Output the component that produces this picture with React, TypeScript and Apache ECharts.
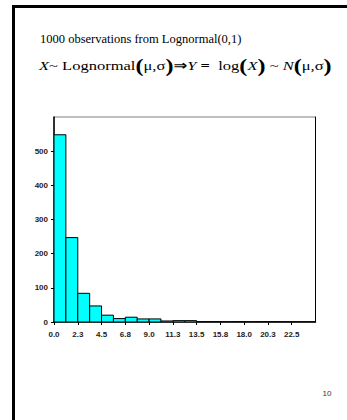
import React, { useEffect, useRef } from "react";
import * as echarts from "echarts";

// Histogram of 1000 observations from Lognormal(0,1)
const binWidth = 1.125;
const counts = [548, 247, 84, 47, 20, 10, 14, 9, 9, 3, 4, 4, 1, 1, 0, 1, 0, 1, 1, 0, 0, 0];
const xMin = 0;
const xMax = 24.75;
const xInterval = 2.25;
const yMin = 0;
const yMax = 600;
const yInterval = 100;
const titleText = "1000 observations from Lognormal(0,1)";
const pageNumber = "10";

export default function App() {
  const ref = useRef<HTMLDivElement>(null);
  useEffect(() => {
    if (!ref.current) return;
    const chart = echarts.init(ref.current, null, { renderer: "svg" });
    const data = counts.map((c, i) => [i * binWidth, (i + 1) * binWidth, c]);
    const serif = "'Liberation Serif', 'Times New Roman', 'DejaVu Serif', serif";
    const sans = "'Liberation Sans', Arial, sans-serif";
    chart.setOption({
      animation: false,
      backgroundColor: "#ffffff",
      grid: {
        left: 54,
        right: 31.5,
        top: 117,
        bottom: 98,
        show: true,
        borderColor: "#808080",
        borderWidth: 1,
        containLabel: false,
      },
      xAxis: {
        type: "value",
        min: xMin,
        max: xMax,
        interval: xInterval,
        axisLine: { show: true, onZero: false, lineStyle: { color: "#000", width: 1.5 } },
        axisTick: { show: true, length: 3, lineStyle: { color: "#000" } },
        splitLine: { show: false },
        axisLabel: {
          showMaxLabel: false,
          margin: 8,
          color: "#222",
          fontFamily: sans,
          fontWeight: "bold",
          fontSize: 8,
          formatter: (v: number) => v.toFixed(1),
        },
      },
      yAxis: [
        {
          type: "value",
          min: yMin,
          max: yMax,
          interval: yInterval,
          axisLine: { show: true, lineStyle: { color: "#000", width: 1.5 } },
          axisTick: { show: true, length: 3, lineStyle: { color: "#000" } },
          splitLine: { show: false },
          axisLabel: {
            showMaxLabel: false,
            margin: 6,
            color: "#222",
            fontFamily: sans,
            fontWeight: "bold",
            fontSize: 8,
          },
        },
        {
          type: "value",
          position: "right",
          min: yMin,
          max: yMax,
          interval: yInterval,
          axisLine: { show: true, lineStyle: { color: "#000", width: 1 } },
          axisTick: { show: false },
          axisLabel: { show: false },
          splitLine: { show: false },
        },
      ],
      series: [
        {
          type: "custom",
          clip: true,
          encode: { x: [0, 1], y: 2 },
          data,
          renderItem: (params: any, api: any) => {
            const x0 = api.value(0);
            const x1 = api.value(1);
            const v = api.value(2);
            const p0 = api.coord([x0, v]);
            const p1 = api.coord([x1, 0]);
            return {
              type: "rect",
              shape: { x: p0[0], y: p0[1], width: p1[0] - p0[0], height: p1[1] - p0[1] },
              style: { fill: "#00FFFF", stroke: "#000", lineWidth: 1 },
            };
          },
        },
      ],
      graphic: [
        {
          type: "polyline",
          shape: { points: [[13.5, 430], [13.5, 6.5], [360, 6.5]] },
          style: { stroke: "#000", lineWidth: 3, fill: "none" },
          silent: true,
        },
        {
          type: "text",
          x: 40,
          y: 39,
          style: {
            text: titleText,
            font: `12.5px ${serif}`,
            fill: "#000",
            verticalAlign: "middle",
          },
        },
        {
          type: "text",
          x: 39,
          y: 66,
          scaleX: 1.27,
          style: {
            text:
              "{i|X}{n|~ Lognormal}{p|(}{n|μ,σ}{p|)}{a|⇒}{i|Y}{b| = }{n| log}{p|(}{i|X}{p|)}{n| ~ }{i|N}{p|(}{n|μ,σ}{p|)}",
            verticalAlign: "middle",
            rich: {
              n: { fontFamily: serif, fontSize: 13, fill: "#000" },
              i: { fontFamily: serif, fontSize: 13, fontStyle: "italic", fill: "#000" },
              b: { fontFamily: serif, fontSize: 13, fontWeight: "bold", fill: "#000" },
              a: { fontFamily: "'DejaVu Sans', sans-serif", fontSize: 13, fontWeight: "bold", fill: "#000" },
              p: { fontFamily: serif, fontSize: 19, fontWeight: "bold", fill: "#000" },
            },
          },
        },
        {
          type: "text",
          x: 327,
          y: 393,
          style: {
            text: pageNumber,
            font: `8px ${sans}`,
            fill: "#333",
            align: "center",
            verticalAlign: "middle",
          },
        },
      ],
    });
    return () => chart.dispose();
  }, []);
  return (
    <div
      ref={ref}
      style={{ position: "fixed", left: 0, top: 0, width: 347, height: 420, background: "#fff" }}
    />
  );
}
